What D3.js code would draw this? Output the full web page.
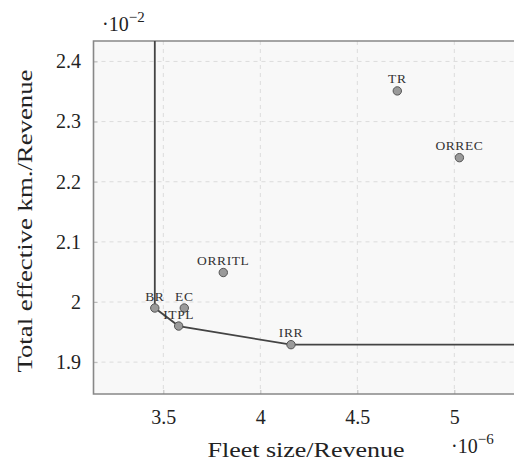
<!DOCTYPE html>
<html><head><meta charset="utf-8">
<script src="https://cdn.jsdelivr.net/npm/d3@7"></script>
<style>
html,body{margin:0;padding:0;background:#fff;}
svg{display:block;}
text{font-family:"Liberation Serif","DejaVu Serif",serif;}
</style></head>
<body>
<svg id="c" width="514" height="462"></svg>
<script>
// Data (x in 1e-6 units, y in 1e-2 units)
const names   = ["TR","ORREC","ORRITL","BR","EC","ITPL","IRR"];
const xValues = [4.706, 5.026, 3.809, 3.456, 3.608, 3.579, 4.158];
const yValues = [2.351, 2.240, 2.049, 1.990, 1.990, 1.960, 1.929];
// Efficient frontier: vertical from top, through BR, ITPL, IRR, then horizontal
const frontierX = [3.456, 3.456, 3.579, 4.158, 5.6];
const frontierY = [2.5,   1.990, 1.960, 1.929, 1.929];
const xTicks = [3.5, 4, 4.5, 5];
const xTickLabels = ["3.5","4","4.5","5"];
const yTicks = [1.9, 2, 2.1, 2.2, 2.3, 2.4];
const yTickLabels = ["1.9","2","2.1","2.2","2.3","2.4"];
const xTitle = "Fleet size/Revenue";
const yTitle = "Total effective km./Revenue";

const svg = d3.select("#c");
const L = 93.5, T = 41, B = 394, R = 560;
const x = d3.scaleLinear().domain([3.14, 5.55]).range([L, L + (5.55-3.14)*194]);
const y = d3.scaleLinear().domain([1.847, 2.434]).range([B, T]);

svg.append("defs").append("clipPath").attr("id","clip")
  .append("rect").attr("x",L).attr("y",T).attr("width",R-L).attr("height",B-T);

// background
svg.append("rect").attr("x",L).attr("y",T).attr("width",R-L).attr("height",B-T)
  .attr("fill","#f8f8f8");

// grid
const g = svg.append("g");
g.selectAll(".vg").data(xTicks).join("line")
  .attr("x1",d=>x(d)).attr("x2",d=>x(d)).attr("y1",T).attr("y2",B)
  .attr("stroke","#dcdcdc").attr("stroke-width",1).attr("stroke-dasharray","4,4");
g.selectAll(".hg").data(yTicks).join("line")
  .attr("x1",L).attr("x2",R).attr("y1",d=>y(d)).attr("y2",d=>y(d))
  .attr("stroke","#dcdcdc").attr("stroke-width",1).attr("stroke-dasharray","4,4");

// axes
const xAxis = d3.axisBottom(x).tickValues(xTicks).tickFormat((d,i)=>xTickLabels[i])
  .tickSizeInner(-4).tickSizeOuter(0).tickPadding(16);
const ax = svg.append("g").attr("transform",`translate(0,${B})`).call(xAxis);
ax.select(".domain").remove();
ax.selectAll("line").attr("stroke","#bbb");
ax.selectAll("text").attr("font-size",20).attr("fill","#222")
  .attr("font-family","Liberation Serif, serif");

const yAxis = d3.axisLeft(y).tickValues(yTicks).tickFormat((d,i)=>yTickLabels[i])
  .tickSizeInner(-4).tickSizeOuter(0).tickPadding(12.5);
const ay = svg.append("g").attr("transform",`translate(${L},0)`).call(yAxis);
ay.select(".domain").remove();
ay.selectAll("line").attr("stroke","#bbb");
ay.selectAll("text").attr("font-size",20).attr("fill","#222")
  .attr("font-family","Liberation Serif, serif");

// frame (top, left, bottom)
svg.append("path")
  .attr("d",`M${R},${T}H${L}V${B}H${R}`)
  .attr("fill","none").attr("stroke","#888").attr("stroke-width",1.6);

// frontier line
const plot = svg.append("g").attr("clip-path","url(#clip)");
const lineData = frontierX.map((v,i)=>[v, frontierY[i]]);
plot.append("path").datum(lineData)
  .attr("d", d3.line().x(d=>x(d[0])).y(d=>y(d[1])))
  .attr("fill","none").attr("stroke","#444").attr("stroke-width",1.8);

// points
const pts = names.map((n,i)=>({n, x:xValues[i], y:yValues[i]}));
plot.selectAll("circle").data(pts).join("circle")
  .attr("cx",d=>x(d.x)).attr("cy",d=>y(d.y)).attr("r",4.2)
  .attr("fill","#9a9a9a").attr("stroke","#555").attr("stroke-width",1);
plot.selectAll(".lbl").data(pts).join("text")
  .attr("x",d=>x(d.x)).attr("y",d=>y(d.y)-7.5)
  .attr("text-anchor","middle").attr("font-size",13.5).attr("fill","#333")
  .attr("letter-spacing",0.6)
  .text(d=>d.n);

// axis titles
svg.append("text").attr("x",306).attr("y",457).attr("text-anchor","middle")
  .attr("font-size",21).attr("fill","#222")
  .attr("textLength",197).attr("lengthAdjust","spacingAndGlyphs")
  .text(xTitle);
svg.append("text").attr("transform","translate(32,221) rotate(-90)")
  .attr("text-anchor","middle").attr("font-size",21).attr("fill","#222")
  .attr("textLength",303).attr("lengthAdjust","spacingAndGlyphs")
  .text(yTitle);

// exponent labels
function expo(xp, yp, e){
  const t = svg.append("text").attr("x",xp).attr("y",yp).attr("fill","#222").attr("font-size",20);
  t.append("tspan").text("·10");
  t.append("tspan").attr("dy",-9).attr("font-size",15).text("−"+e);
}
expo(102, 31, 2);
expo(451, 453, 6);
</script>
</body></html>
